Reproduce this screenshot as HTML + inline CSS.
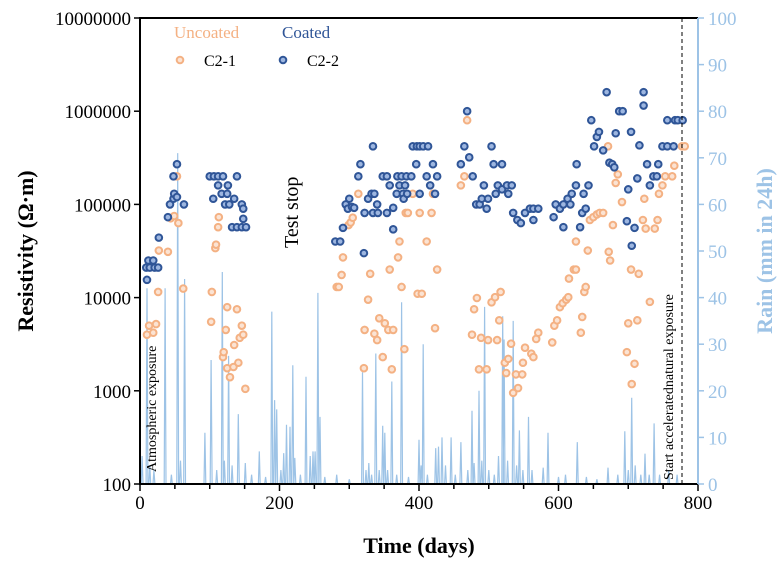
<!DOCTYPE html>
<html><head><meta charset="utf-8"><style>
html,body{margin:0;padding:0;background:#fff}
svg{display:block;font-family:"Liberation Serif",serif}
</style></head><body>
<svg id="chart" width="783" height="562" viewBox="0 0 783 562" xmlns="http://www.w3.org/2000/svg">
<g id="rain"></g>
<g id="axes"></g>
<g id="pts"></g>
<g>
<text x="174" y="38" font-size="17" fill="#f4b183">Uncoated</text>
<text x="282" y="38" font-size="17" fill="#2f5597">Coated</text>
<circle cx="180" cy="60" r="3.3" fill="#fbe3d3" stroke="#f4b183" stroke-width="2"/>
<text x="204" y="66" font-size="16" fill="#000">C2-1</text>
<circle cx="283" cy="60" r="3.3" fill="#9db6e0" stroke="#2f5597" stroke-width="2"/>
<text x="307" y="66" font-size="16" fill="#000">C2-2</text>
</g>
<text transform="translate(156,472) rotate(-90)" font-size="14" fill="#000">Atmospheric exposure</text>
<text transform="translate(298,248) rotate(-90)" font-size="20" fill="#000">Test stop</text>
<text transform="translate(673,480) rotate(-90)" font-size="14" fill="#000">Start acceleratednatural exposure</text>
<line x1="682" y1="18" x2="682" y2="484" stroke="#000" stroke-width="1" stroke-dasharray="4,3"/>
<text x="419" y="553" font-size="22" font-weight="bold" text-anchor="middle">Time (days)</text>
<text transform="translate(33,251) rotate(-90)" font-size="22" font-weight="bold" text-anchor="middle">Resistivity (Ω·m)</text>
<text transform="translate(772,251) rotate(-90)" font-size="22" font-weight="bold" fill="#9dc3e6" text-anchor="middle">Rain (mm in 24h)</text>
</svg>
<script>
const xTicks = [0, 200, 400, 600, 800];
const yTicks = [100, 1000, 10000, 100000, 1000000, 10000000];
const y2Ticks = [0, 10, 20, 30, 40, 50, 60, 70, 80, 90, 100];
const uncoatedData = [[10,4000],[13,5000],[19,4200],[23,5200],[26,11500],[27,32000],[40,31000],[44,71000],[49,75000],[53,200000],[55,63000],[62,12500],
[102,5500],[103,11500],[108,34000],[109,37000],[112,57000],[113,73000],[119,2300],[120,2600],[123,4500],[125,7900],[125,1750],[129,1400],[134,1800],[135,3100],[139,7500],[141,2000],[143,3700],[146,5000],[148,4000],[151,1050],
[282,13000],[285,13000],[289,17500],[291,27000],[299,60000],[302,64000],[305,72000],[313,130000],[321,1750],[322,4500],[327,9500],[330,18000],[336,4100],[340,3500],[343,6000],[348,2300],[351,5300],[356,4500],[358,20000],[361,1700],[363,4500],[370,27000],[372,40000],[375,13000],[379,2800],[381,81000],[384,81000],[391,130000],[398,11000],
[401,81000],[404,11000],[411,40000],[418,81000],[420,130000],[423,4700],[426,20000],[460,160000],[465,200000],[469,800000],[476,4000],[479,7500],[483,9900],[486,1700],[489,3700],[497,1700],[499,3500],[504,8900],[509,10100],[512,3500],[515,5700],[517,11500],[523,2000],[525,1550],[528,2200],[532,3200],[535,950],[539,1500],[542,1070],[548,1500],[549,2000],[552,2900],[561,2500],[564,2300],[568,3600],[571,4200],
[591,3300],[594,5000],[598,5700],[602,7900],[606,8700],[611,9500],[614,10100],[615,16000],[622,20000],[625,20000],[625,40000],[632,4200],[634,6200],[637,11500],[639,13000],[642,32000],[645,68000],[650,73000],[655,78000],[659,81000],[664,81000],[671,420000],[672,31000],[674,25000],[678,60000],[682,170000],[685,210000],[691,106000],
[698,2600],[700,5300],[704,20000],[705,1180],[709,1950],[713,5700],[715,18000],[721,68000],[723,115000],[725,55000],[731,9000],[738,55000],[742,68000],[744,130000],[749,160000],[753,200000],[763,200000],[766,260000],[777,420000],[781,420000]];
const coatedData = [[9,21000],[10,15500],[12,25000],[14,21000],[19,25000],[21,21000],[26,21000],[27,44000],[40,73000],[43,100000],[48,115000],[48,200000],[49,130000],[53,120000],[53,270000],[63,100000],
[100,200000],[105,115000],[106,200000],[112,200000],[112,160000],[117,130000],[119,200000],[122,100000],[125,130000],[126,160000],[128,100000],[132,57000],[135,115000],[139,200000],[139,57000],[146,100000],[146,57000],[148,90000],[148,70000],[152,57000],
[280,40000],[287,40000],[291,56000],[295,100000],[298,90000],[300,115000],[304,94000],[307,92000],[313,200000],[316,270000],[321,30000],[322,81000],[327,115000],[332,130000],[334,81000],[334,420000],[336,130000],[340,100000],[341,81000],[348,200000],[354,200000],[354,81000],[358,160000],[363,92000],[363,54000],[368,130000],[369,200000],[372,160000],[375,200000],[377,130000],[378,115000],[380,160000],[382,200000],[383,130000],[389,200000],[391,420000],[396,270000],[397,420000],
[401,420000],[401,130000],[406,420000],[411,200000],[413,420000],[416,160000],[420,270000],[423,130000],[426,200000],[460,270000],[465,420000],[469,1000000],[472,320000],[477,200000],[482,100000],[487,100000],[490,115000],[493,160000],[497,90000],[499,115000],[504,420000],[507,270000],[510,130000],[513,160000],[519,270000],[519,145000],[526,160000],[528,130000],[533,160000],[535,81000],[541,68000],[546,63000],[552,81000],[559,90000],[564,90000],[564,68000],[571,90000],
[593,73000],[596,100000],[602,90000],[607,100000],[607,57000],[613,115000],[617,100000],[619,130000],[625,160000],[626,270000],[631,57000],[634,81000],[636,130000],[639,90000],[643,160000],[647,800000],[651,420000],[655,530000],[658,600000],[664,380000],[669,1600000],[673,280000],[677,270000],[680,250000],[682,580000],[687,1000000],[692,1000000],
[698,66000],[700,145000],[704,600000],[705,36000],[709,56000],[713,190000],[716,430000],[722,1600000],[722,1150000],[727,270000],[731,160000],[736,200000],[741,200000],[743,270000],[749,420000],[756,420000],[756,800000],[765,420000],[767,800000],[771,800000],[778,800000]];
const rainData = [[3,6],[10,42],[14,4],[20,3],[36,42],[45,2],[54,71],[58,5],[64,44],[93,11],[102,26.6],[110,3],[118,45.5],[121,5],[127,27.5],[132,4],[141,15],[151,4.5],[160,2],[171,7],[180,1.5],[189,37],[193,18],[196,16],[202,3],[206,6.6],[210,12.7],[215,12.3],[219,25.5],[222,5.6],[230,2],[238,23],[244,6],[248,7],[251,7],[255,41],[258,14.4],[265,1.5],[282,2],[300,1],[319,24],[324,3],[328,4.5],[332,2],[338,28],[343,3],[348,12.5],[351,11],[355,3],[361,22],[368,2],[375,39],[385,1.5],[400,9.5],[403,4],[406,30],[412,2],[424,7.7],[428,8],[433,10],[438,4],[446,10],[452,2],[460,9],[470,3],[476,15.7],[479,4.5],[486,20],[490,5],[494,38],[500,3],[508,2],[514,6],[520,36],[522,31],[527,5],[535,35],[540,4],[544,11.5],[549,3],[557,14.4],[562,3],[578,3.5],[585,11],[600,1.5],[610,2],[627,9],[640,1.5],[655,1],[671,3.5],[685,2],[695,11.3],[700,3],[705,18.5],[710,4],[718,2],[724,6.5],[730,2],[737,13],[745,2],[758,3],[770,2]];

const NS = 'http://www.w3.org/2000/svg';
const X0 = 140, X1 = 698, YT = 18, YB = 484;
function xs(d){ return X0 + d * (X1 - X0) / 800; }
function yl(r){ return YB - (Math.log10(r) - 2) * (YB - YT) / 5; }
function yr(m){ return YB - m * (YB - YT) / 100; }
function mk(tag, attrs, parent){ const e = document.createElementNS(NS, tag); for (const k in attrs) e.setAttribute(k, attrs[k]); parent.appendChild(e); return e; }

const axes = document.getElementById('axes');
let el;
el = mk('line', {x1:X0, y1:YT, x2:X1, y2:YT, stroke:'#000', 'stroke-width':2}, axes);


el = mk('line', {x1:X0, y1:YT-1, x2:X0, y2:YB+1, stroke:'#000', 'stroke-width':2}, axes);


el = mk('line', {x1:X0, y1:YB, x2:X1, y2:YB, stroke:'#000', 'stroke-width':2}, axes);


el = mk('line', {x1:X1, y1:YT, x2:X1, y2:YB, stroke:'#9dc3e6', 'stroke-width':2}, axes);



for (let d = 0; d <= 800; d += 50) {
  el = mk('line', {x1:xs(d), y1:YB, x2:xs(d), y2:YB + (d % 200 === 0 ? 7 : 5), stroke:'#000', 'stroke-width':1.5}, axes);
  
  
}
xTicks.forEach(t => {
  el = mk('text', {x:xs(t), y:YB + 25, 'font-size':19, 'text-anchor':'middle', fill:'#000'}, axes);
  el.textContent = t;
  
  
});
yTicks.forEach(t => {
  el = mk('line', {x1:X0 - 6, y1:yl(t), x2:X0, y2:yl(t), stroke:'#000', 'stroke-width':1.5}, axes);
  
  
  el = mk('text', {x:X0 - 9, y:yl(t) + 7, 'font-size':19, 'text-anchor':'end', fill:'#000'}, axes);
  el.textContent = t;
  
  
});
y2Ticks.forEach(t => {
  el = mk('line', {x1:X1, y1:yr(t), x2:X1 + 6, y2:yr(t), stroke:'#9dc3e6', 'stroke-width':1.5}, axes);
  
  
  el = mk('text', {x:X1 + 10, y:yr(t) + 7, 'font-size':19, fill:'#9dc3e6'}, axes);
  el.textContent = t;
  
  
});

const rainG = document.getElementById('rain');
let pts = [[xs(0), yr(0)]];
rainData.forEach(([d, m]) => { pts.push([xs(d - 1.3), yr(0)], [xs(d), yr(m)], [xs(d + 1.3), yr(0)]); });
pts.push([xs(780), yr(0)]);
el = mk('polyline', {points: pts.map(p => p[0].toFixed(1) + ',' + p[1].toFixed(1)).join(' '), fill:'none', stroke:'#9dc3e6', 'stroke-width':1.2}, rainG);



const ptsG = document.getElementById('pts');
uncoatedData.forEach(([d, r]) => {
  el = mk('circle', {cx:xs(d), cy:yl(r), r:3.3, fill:'#fbe3d3', stroke:'#f4b183', 'stroke-width':2}, ptsG);
  
  
});
coatedData.forEach(([d, r]) => {
  el = mk('circle', {cx:xs(d), cy:yl(r), r:3.3, fill:'#9db6e0', stroke:'#2f5597', 'stroke-width':2}, ptsG);
  
  
});
</script>
</body></html>
